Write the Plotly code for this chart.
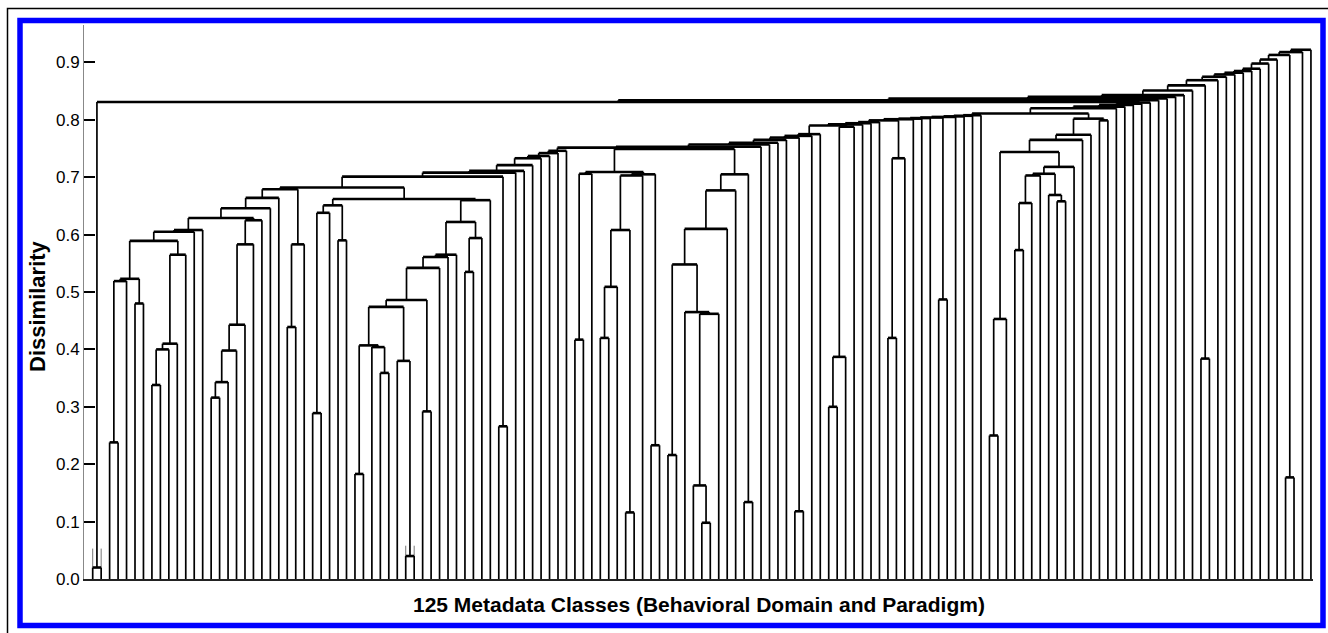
import plotly.graph_objects as go

# ---------------- data ----------------
N_LEAVES = 145  # leaves in display order 0..144

# merges: (node name, child A, child B, dissimilarity); ints are leaf indices
MERGES_LEFT = [
    ("p01", 0, 1, 0.020),
    ("a", 2, 3, 0.238), ("c1", "a", 4, 0.519), ("b", 5, 6, 0.480),
    ("c2", "c1", "b", 0.523), ("d", 7, 8, 0.338), ("e1", "d", 9, 0.400),
    ("e2", "e1", 10, 0.410), ("f", "e2", 11, 0.565), ("g", "c2", "f", 0.589),
    ("h1", "g", 12, 0.605), ("h2", "h1", 13, 0.608),
    ("i1", 14, 15, 0.316), ("i2", "i1", 16, 0.343), ("i3", "i2", 17, 0.398),
    ("i4", "i3", 18, 0.443), ("j", "i4", 19, 0.583), ("k1", "j", 20, 0.625),
    ("k2", "h2", "k1", 0.629), ("m1", "k2", 21, 0.646), ("m2", "m1", 22, 0.664),
    ("n1", 23, 24, 0.439), ("n2", "n1", 25, 0.583), ("p", "m2", "n2", 0.679),
    ("s1", 26, 27, 0.289), ("s2", "s1", 28, 0.638), ("t", 29, 30, 0.590),
    ("u", "s2", "t", 0.651), ("w1", 31, 32, 0.183), ("w2", 34, 35, 0.359),
    ("w3", 33, "w2", 0.404), ("w4", "w1", "w3", 0.407), ("y1", 37, 38, 0.040),
    ("y2", 36, "y1", 0.380), ("y3", "w4", "y2", 0.474), ("z", 39, 40, 0.292),
    ("y4", "y3", "z", 0.486), ("y5", "y4", 41, 0.542), ("y6", "y5", 42, 0.561),
    ("y7", "y6", 43, 0.565), ("aa1", 44, 45, 0.535), ("aa2", "aa1", 46, 0.594),
    ("y8", "y7", "aa2", 0.622), ("y9", "y8", 47, 0.660), ("r", "u", "y9", 0.662),
    ("q", "p", "r", 0.682), ("ab", 48, 49, 0.266), ("q2", "q", "ab", 0.701),
    ("q3", "q2", 50, 0.708), ("q4", "q3", 51, 0.711), ("q5", "q4", 52, 0.721),
    ("q6", "q5", 53, 0.733), ("q7", "q6", 54, 0.737), ("q8", "q7", 55, 0.742),
    ("q9", "q8", 56, 0.746),
]

MERGES_MIDDLE = [
    ("ba", 57, 58, 0.417), ("bb1", "ba", 59, 0.706), ("ca", 60, 61, 0.420),
    ("cb", "ca", 62, 0.509), ("cc", 63, 64, 0.116), ("cd", "cb", "cc", 0.608),
    ("ce", "cd", 65, 0.703), ("ac", 66, 67, 0.233), ("cf", "ce", "ac", 0.705),
    ("bb2", "bb1", "cf", 0.709),
    ("da", 68, 69, 0.216), ("db1", 72, 73, 0.098), ("db2", 71, "db1", 0.163),
    ("db3", "db2", 74, 0.462), ("db4", 70, "db3", 0.465), ("dc", "da", "db4", 0.548),
    ("dd", "dc", 75, 0.610), ("de", "dd", 76, 0.677), ("dp", 77, 78, 0.134),
    ("df", "de", "dp", 0.705),
    ("m3", "bb2", "df", 0.749), ("m4", "q9", "m3", 0.7515), ("a0", "m4", 79, 0.753),
    ("a1", "a0", 80, 0.757), ("a2", "a1", 81, 0.760), ("a3", "a2", 82, 0.765),
]

MERGES_RIGHT = [
    ("e83", 83, 84, 0.118), ("b1", "a3", "e83", 0.769), ("b2", "b1", 85, 0.772),
    ("b3", "b2", 86, 0.775), ("k87", 87, 88, 0.300), ("k89", "k87", 89, 0.387),
    ("k90", "k89", 90, 0.788), ("b4", "b3", "k90", 0.790), ("b5", "b4", 91, 0.792),
    ("b6", "b5", 92, 0.794), ("b7", "b6", 93, 0.796), ("k94", 94, 95, 0.420),
    ("k96", "k94", 96, 0.733), ("b8", "b7", "k96", 0.799), ("b9", "b8", 97, 0.801),
    ("b10", "b9", 98, 0.802), ("b11", "b10", 99, 0.803), ("k100", 100, 101, 0.487),
    ("b12", "b11", "k100", 0.804), ("b13", "b12", 102, 0.805),
    ("b14", "b13", 103, 0.806), ("b15", "b14", 104, 0.807), ("b16", "b15", 105, 0.808),
    ("g1", 106, 107, 0.250), ("g2", "g1", 108, 0.453), ("h1r", 109, 110, 0.573),
    ("h2r", "h1r", 111, 0.655), ("h3r", "h2r", 112, 0.703), ("i1r", 114, 115, 0.658),
    ("i2r", 113, "i1r", 0.669), ("h4r", "h3r", "i2r", 0.706), ("h5r", "h4r", 116, 0.718),
    ("g3", "g2", "h5r", 0.744), ("g4", "g3", 117, 0.765), ("g5", "g4", 118, 0.774),
    ("j1r", 119, 120, 0.799), ("g6", "g5", "j1r", 0.802), ("b17", "b16", "g6", 0.811),
]

MERGES_TOP = [
    ("t1", "b17", 121, 0.820), ("t2", "t1", 122, 0.823), ("t3", "t2", 123, 0.826),
    ("t4", "t3", 124, 0.828), ("t5", "t4", 125, 0.830), ("t6", "p01", "t5", 0.831),
    ("t7", "t6", 126, 0.834), ("t8", "t7", 127, 0.837), ("t9", "t8", 128, 0.840),
    ("t10", "t9", 129, 0.843), ("t11", "t10", 130, 0.851), ("k131", 131, 132, 0.384),
    ("t12", "t11", "k131", 0.860), ("t13", "t12", 133, 0.869), ("t14", "t13", 134, 0.875),
    ("t15", "t14", 135, 0.879), ("t16", "t15", 136, 0.882), ("t17", "t16", 137, 0.885),
    ("t18", "t17", 138, 0.889), ("t19", "t18", 139, 0.898), ("t20", "t19", 140, 0.905),
    ("k141", 141, 142, 0.177), ("t21", "t20", "k141", 0.913), ("t22", "t21", 143, 0.918),
    ("t23", "t22", 144, 0.922),
]

# faint stubs above two near-zero pairs
STUB_LEAVES = [0, 1, 37, 38]
STUB_BOTTOM = [0.020, 0.020, 0.040, 0.040]
STUB_TOP = [0.053, 0.053, 0.058, 0.058]

Y_TICKS = [0.0, 0.1, 0.2, 0.3, 0.4, 0.5, 0.6, 0.7, 0.8, 0.9]
Y_TICK_TEXT = ["0.0", "0.1", "0.2", "0.3", "0.4", "0.5", "0.6", "0.7", "0.8", "0.9"]
X_TITLE = "125 Metadata Classes (Behavioral Domain and Paradigm)"
Y_TITLE = "Dissimilarity"

# ---------------- build segments ----------------
pos = {i: (float(i), 0.0) for i in range(N_LEAVES)}
vx, vy, hx, hy = [], [], [], []
for name, ca, cb, h in MERGES_LEFT + MERGES_MIDDLE + MERGES_RIGHT + MERGES_TOP:
    xa, ya = pos[ca]
    xb, yb = pos[cb]
    vx += [xa, xa, None, xb, xb, None]
    vy += [ya, h, None, yb, h, None]
    hx += [xa, xb, None]
    hy += [h, h, None]
    pos[name] = ((xa + xb) / 2.0, h)

sx, sy = [], []
for lf, b0, t0 in zip(STUB_LEAVES, STUB_BOTTOM, STUB_TOP):
    sx += [lf, lf, None]
    sy += [b0, t0, None]

# ---------------- layout geometry ----------------
W, H = 1328, 633
ML, MR, MT, MB = 84, 15, 25, 54
PW, PH = W - ML - MR, H - MT - MB


def px(xp):
    return (xp - ML) / PW


def py(yp):
    return (H - MB - yp) / PH


FONT = "Liberation Sans, Arial, Helvetica, sans-serif"

fig = go.Figure()
fig.add_trace(go.Scatter(x=sx, y=sy, mode="lines", line=dict(color="#777", width=1),
                         hoverinfo="skip", showlegend=False))
fig.add_trace(go.Scatter(x=vx, y=vy, mode="lines", line=dict(color="#000", width=1.7),
                         hoverinfo="skip", showlegend=False))
fig.add_trace(go.Scatter(x=hx, y=hy, mode="lines", line=dict(color="#000", width=2.6),
                         hoverinfo="skip", showlegend=False))

spacing = 8.46  # px per leaf
x0 = -(92.7 - ML) / spacing
x1 = x0 + PW / spacing

fig.update_layout(
    width=W, height=H,
    margin=dict(l=ML, r=MR, t=MT, b=MB, pad=0),
    paper_bgcolor="white", plot_bgcolor="white",
    font=dict(family=FONT, color="black"),
    xaxis=dict(range=[x0, x1], showticklabels=False, ticks="", showgrid=False,
               zeroline=False, showline=True, linecolor="#222", linewidth=2),
    yaxis=dict(range=[0, (H - MB - MT) / 57.4 * 0.1], tickvals=Y_TICKS, ticktext=Y_TICK_TEXT,
               ticks="inside", ticklen=11, tickwidth=2, tickcolor="black",
               tickfont=dict(size=17, family=FONT, color="black"),
               showgrid=False, zeroline=False, showline=True, linecolor="#888", linewidth=1),
    annotations=[
        dict(text="<b>%s</b>" % X_TITLE, x=0.5, y=py(604), xref="paper", yref="paper",
             xanchor="center", yanchor="middle", showarrow=False,
             font=dict(size=21, family=FONT, color="black")),
        dict(text="<b>%s</b>" % Y_TITLE, x=px(37), y=py(306), xref="paper", yref="paper",
             xanchor="center", yanchor="middle", textangle=-90, showarrow=False,
             font=dict(size=22, family=FONT, color="black")),
    ],
    shapes=[
        dict(type="rect", xref="paper", yref="paper", x0=px(7.5), y0=py(660), x1=px(1360),
             y1=py(8.5), line=dict(color="black", width=1.5), layer="below"),
        dict(type="rect", xref="paper", yref="paper", x0=px(20), y0=py(625.5), x1=px(1323),
             y1=py(20.5), line=dict(color="#0000FF", width=5.5), layer="below"),
    ],
)

fig.write_html("out.html")
